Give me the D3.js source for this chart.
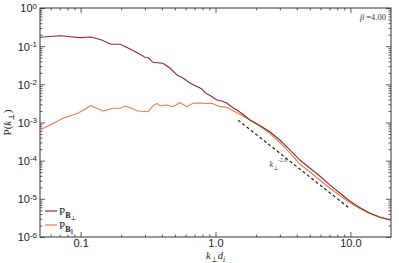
<!DOCTYPE html>
<html>
<head>
<meta charset="utf-8">
<script src="https://cdn.jsdelivr.net/npm/d3@7"></script>
<style>
  body { margin: 0; background: #fff; }
  svg { display: block; font-family: "Liberation Serif", "DejaVu Serif", serif; }
</style>
</head>
<body>
<svg id="chart" width="399" height="263"></svg>
<script>
// wavenumber k_perp d_i and spectra
const kPerp = [0.05, 0.0593, 0.0716, 0.0834, 0.0989, 0.119, 0.1416, 0.168, 0.196, 0.217, 0.253,
  0.300, 0.316, 0.344, 0.368, 0.407, 0.459, 0.518, 0.573, 0.646, 0.716, 0.793, 0.834, 0.924,
  1.024, 1.115, 1.213, 1.322, 1.465, 1.622, 1.798, 2.133, 2.53, 3.0, 3.56, 4.22, 5.0, 5.93,
  7.03, 8.34, 9.89, 11.72, 13.9, 16.5, 20];
const pPerp = [0.171, 0.179, 0.188, 0.177, 0.167, 0.174, 0.148, 0.112, 0.112, 0.095, 0.0725,
  0.051, 0.0505, 0.0378, 0.0369, 0.0356, 0.0268, 0.0176, 0.0147, 0.0108, 0.00904, 0.00755,
  0.00604, 0.00495, 0.00389, 0.00366, 0.00325, 0.00255, 0.00204, 0.00157, 0.00116, 8.35e-4,
  5.74e-4, 3.48e-4, 1.91e-4, 1.04e-4, 6.43e-5, 3.97e-5, 2.31e-5, 1.42e-5, 8.79e-6, 5.94e-6,
  4.26e-6, 3.35e-6, 2.79e-6];

const kPar = [0.05, 0.0593, 0.074, 0.0955, 0.119, 0.1466, 0.174, 0.196, 0.217, 0.266, 0.316,
  0.344, 0.368, 0.387, 0.436, 0.483, 0.544, 0.614, 0.68, 0.766, 0.849, 0.94, 1.007, 1.077,
  1.213, 1.345, 1.596, 1.893, 2.205, 2.53, 3.0, 3.56, 4.22, 5.0, 5.93, 7.03, 8.34, 9.89,
  11.72, 13.9, 16.5, 20];
const pPar = [6.37e-4, 8.61e-4, 1.29e-3, 1.74e-3, 2.75e-3, 2.0e-3, 2.36e-3, 2.36e-3, 2.71e-3,
  2.0e-3, 1.92e-3, 2.71e-3, 3.18e-3, 2.75e-3, 2.88e-3, 2.6e-3, 3.3e-3, 2.6e-3, 3.18e-3,
  3.25e-3, 3.15e-3, 3.18e-3, 2.88e-3, 2.6e-3, 2.5e-3, 2.04e-3, 1.48e-3, 1.05e-3, 7.39e-4,
  5.21e-4, 2.99e-4, 1.59e-4, 8.18e-5, 5.05e-5, 3.12e-5, 1.92e-5, 1.22e-5, 8.02e-6, 5.59e-6,
  4.13e-6, 3.24e-6, 2.71e-6];

// reference power law k^-2.8
const fitK = [1.47, 9.9];
const fitAmp = 3.4e-3;
const fitIndex = -2.8;

const xMajor = [0.1, 1, 10];
const xMajorLabels = ["0.1", "1.0", "10.0"];
const yMajor = [1, 1e-1, 1e-2, 1e-3, 1e-4, 1e-5, 1e-6];
const yExp = ["0", "-1", "-2", "-3", "-4", "-5", "-6"];

const margin = { top: 8, right: 8, bottom: 26, left: 40 };
const W = 399, H = 263;
const w = W - margin.left - margin.right;
const h = H - margin.top - margin.bottom;

const svg = d3.select("#chart");
const g = svg.append("g").attr("transform", `translate(${margin.left},${margin.top})`);

const x = d3.scaleLog().domain([0.05, 20]).range([0, w]);
const y = d3.scaleLog().domain([1e-6, 1]).range([h, 0]);

// minor tick positions
const xMinor = [];
[0.01, 0.1, 1, 10].forEach(d => { for (let i = 2; i <= 9; i++) { const v = d * i; if (v > 0.05 && v < 20) xMinor.push(v); } });
const yMinor = [];
[1e-6, 1e-5, 1e-4, 1e-3, 1e-2, 1e-1].forEach(d => { for (let i = 2; i <= 9; i++) yMinor.push(d * i); });

const axisColor = "#333";
function styleAxis(sel) {
  sel.select(".domain").remove();
  sel.selectAll("line").attr("stroke", axisColor).attr("stroke-width", 0.8);
  sel.selectAll("text").attr("fill", "#222").style("font-size", "11px");
}

// bottom
g.append("g").attr("transform", `translate(0,${h})`)
  .call(d3.axisBottom(x).tickValues(xMajor).tickSize(-5).tickPadding(2).tickFormat((d, i) => xMajorLabels[i]))
  .call(styleAxis);
g.append("g").attr("transform", `translate(0,${h})`)
  .call(d3.axisBottom(x).tickValues(xMinor).tickSize(-2.5).tickFormat(""))
  .call(styleAxis);
// top
g.append("g")
  .call(d3.axisTop(x).tickValues(xMajor).tickSize(-5).tickFormat(""))
  .call(styleAxis);
g.append("g")
  .call(d3.axisTop(x).tickValues(xMinor).tickSize(-2.5).tickFormat(""))
  .call(styleAxis);
// left
const yAx = g.append("g")
  .call(d3.axisLeft(y).tickValues(yMajor).tickSize(-5).tickFormat(""))
  .call(styleAxis);
yAx.selectAll(".tick").append("text")
  .attr("x", -3).attr("dy", "0.35em").attr("text-anchor", "end")
  .attr("fill", "#222").style("font-size", "11px")
  .each(function (d, i) {
    const t = d3.select(this);
    t.append("tspan").text("10");
    t.append("tspan").attr("dy", "-0.45em").style("font-size", "8px").text(yExp[i]);
  });
g.append("g")
  .call(d3.axisLeft(y).tickValues(yMinor).tickSize(-2.5).tickFormat(""))
  .call(styleAxis);
// right
g.append("g").attr("transform", `translate(${w},0)`)
  .call(d3.axisRight(y).tickValues(yMajor).tickSize(-5).tickFormat(""))
  .call(styleAxis);
g.append("g").attr("transform", `translate(${w},0)`)
  .call(d3.axisRight(y).tickValues(yMinor).tickSize(-2.5).tickFormat(""))
  .call(styleAxis);

// frame
g.append("rect").attr("width", w).attr("height", h)
  .attr("fill", "none").attr("stroke", axisColor).attr("stroke-width", 1);

const line = d3.line().x(d => x(d[0])).y(d => y(d[1]));

const colPerp = "#8a2e2e";
const colPar = "#ef7a4b";

g.append("path").datum(kPar.map((k, i) => [k, pPar[i]]))
  .attr("d", line).attr("fill", "none").attr("stroke", colPar).attr("stroke-width", 1.1);
g.append("path").datum(kPerp.map((k, i) => [k, pPerp[i]]))
  .attr("d", line).attr("fill", "none").attr("stroke", colPerp).attr("stroke-width", 1.1);

// power law fit
const fitPts = d3.range(0, 21).map(i => {
  const k = fitK[0] * Math.pow(fitK[1] / fitK[0], i / 20);
  return [k, fitAmp * Math.pow(k, fitIndex)];
});
g.append("path").datum(fitPts)
  .attr("d", line).attr("fill", "none").attr("stroke", "#222")
  .attr("stroke-width", 1.2).attr("stroke-dasharray", "3,2.5");

// power-law annotation
const ann = g.append("text")
  .attr("x", x(2.5)).attr("y", y(7e-5))
  .attr("fill", "#555").style("font-size", "9px").style("font-style", "italic");
ann.append("tspan").text("k");
ann.append("tspan").attr("dy", "3").style("font-size", "6px").text("\u22a5");
ann.append("tspan").attr("dy", "-8").attr("dx", "-1").style("font-size", "6px").style("font-style", "normal").text("-2.8");

// beta label
const beta = g.append("text").attr("x", w - 5).attr("y", 12)
  .attr("text-anchor", "end").attr("fill", "#333").style("font-size", "8.5px");
beta.append("tspan").style("font-style", "italic").text("\u03b2");
beta.append("tspan").text(" =4.00");

// axis titles
const xt = svg.append("text").attr("x", margin.left + x(1)).attr("y", 259)
  .attr("text-anchor", "middle").attr("fill", "#222").style("font-size", "10.5px").style("font-style", "italic");
xt.append("tspan").text("k");
xt.append("tspan").attr("dy", "2.5").style("font-size", "7.5px").text("\u22a5");
xt.append("tspan").attr("dy", "-2.5").text("d");
xt.append("tspan").attr("dy", "2.5").style("font-size", "7.5px").text("i");

const yt = svg.append("text")
  .attr("transform", `translate(11,${margin.top + h / 2}) rotate(-90)`)
  .attr("text-anchor", "middle").attr("fill", "#222").style("font-size", "11px");
yt.append("tspan").text("P(");
yt.append("tspan").style("font-style", "italic").text("k");
yt.append("tspan").attr("dy", "3").style("font-size", "8px").text("\u22a5");
yt.append("tspan").attr("dy", "-3").text(")");

// legend
const legend = [
  { sub: "\u22a5", color: colPerp },
  { sub: "\u2225", color: colPar }
];
const lg = g.append("g").attr("transform", `translate(5,${h - 26})`);
legend.forEach((d, i) => {
  const row = lg.append("g").attr("transform", `translate(0,${i * 14})`);
  row.append("line").attr("x1", 0).attr("x2", 12).attr("stroke", d.color).attr("stroke-width", 1.2);
  const t = row.append("text").attr("x", 14).attr("dy", "0.35em")
    .attr("fill", "#222").style("font-size", "11px");
  t.append("tspan").text("P");
  t.append("tspan").attr("dy", "3").style("font-size", "8px").style("font-weight", "bold").text("B");
  t.append("tspan").attr("dy", "2").style("font-size", "6px").text(d.sub);
});
</script>
</body>
</html>
